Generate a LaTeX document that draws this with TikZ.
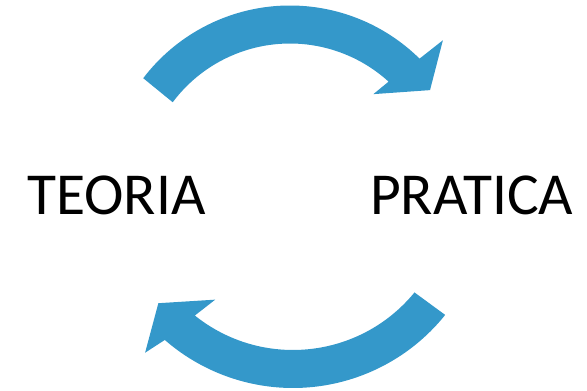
\documentclass[tikz,border=0pt]{standalone}
\usepackage{fontspec}
\setmainfont{Carlito}
\definecolor{arrowblue}{RGB}{52,152,202}
\tikzset{
  lbl/.style={inner sep=0pt, anchor=base west, font=\fontsize{59.5}{70}\selectfont},
  bigarrow/.style={fill=arrowblue, draw=none}
}
\begin{document}
\begin{tikzpicture}[x=1pt,y=1pt]
\useasboundingbox (0,0) rectangle (587,391);
% centers of the two arcs
\coordinate (ct) at (290,201);
\coordinate (cb) at (293,198);
% top arrow: left to right
\fill[bigarrow] ([shift={(142.7:184.5)}]ct) arc[start angle=142.7, end angle=45.4, radius=184.5]
  -- ([shift={(44.4:214)}]ct)
  -- ([shift={(35.5:172)}]ct)
  -- ([shift={(49:127)}]ct)
  -- ([shift={(47.7:146.5)}]ct)
  arc[start angle=47.7, end angle=143.2, radius=146.5] -- cycle;
% bottom arrow: right to left
\fill[bigarrow] ([shift={(-38.7:195)}]cb) arc[start angle=-38.7, end angle=-131.1, radius=195]
  -- ([shift={(-132.8:217.7)}]cb)
  -- ([shift={(-140.7:174)}]cb)
  -- ([shift={(-126.1:132)}]cb)
  -- ([shift={(-128.7:157)}]cb)
  arc[start angle=-128.7, end angle=-39.3, radius=157] -- cycle;
\node[lbl] (teoria) at (27,176) {TEORIA};
\node[lbl] (pratica) at (370,176) {PRATICA};
\end{tikzpicture}
\end{document}
